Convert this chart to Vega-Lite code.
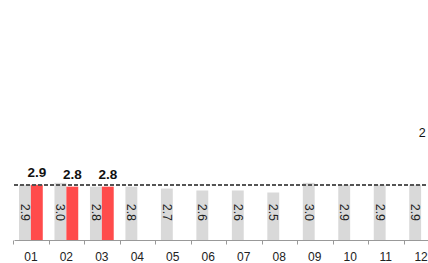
{
  "$schema": "https://vega.github.io/schema/vega-lite/v6.json",
  "width": 424,
  "height": 240,
  "autosize": {"type": "none"},
  "padding": {"left": 14, "top": 0, "right": 0, "bottom": 23},
  "background": "white",
  "config": {"view": {"stroke": null}, "font": "Liberation Sans"},
  "data": {"values": [
    {"month": "01", "series": "prev", "value": 2.9},
    {"month": "02", "series": "prev", "value": 3.0},
    {"month": "03", "series": "prev", "value": 2.8},
    {"month": "04", "series": "prev", "value": 2.8},
    {"month": "05", "series": "prev", "value": 2.7},
    {"month": "06", "series": "prev", "value": 2.6},
    {"month": "07", "series": "prev", "value": 2.6},
    {"month": "08", "series": "prev", "value": 2.5},
    {"month": "09", "series": "prev", "value": 3.0},
    {"month": "10", "series": "prev", "value": 2.9},
    {"month": "11", "series": "prev", "value": 2.9},
    {"month": "12", "series": "prev", "value": 2.9},
    {"month": "01", "series": "cur", "value": 2.9},
    {"month": "02", "series": "cur", "value": 2.8},
    {"month": "03", "series": "cur", "value": 2.8}
  ]},
  "encoding": {
    "x": {
      "field": "month", "type": "nominal",
      "scale": {"paddingInner": 0.33, "paddingOuter": 0.141},
      "axis": {
        "title": null, "labelAngle": 0, "labelFontSize": 12, "labelColor": "#222",
        "labelPadding": 7, "domainColor": "#999", "tickColor": "#999", "tickSize": 4,
        "bandPosition": -0.211, "grid": false
      }
    }
  },
  "layer": [
    {
      "mark": {"type": "bar"},
      "encoding": {
        "xOffset": {"field": "series", "type": "nominal", "scale": {"domain": ["prev", "cur"], "paddingInner": 0}},
        "y": {"field": "value", "type": "quantitative", "scale": {"domain": [0, 12.6], "nice": false}, "axis": null},
        "color": {"field": "series", "type": "nominal", "scale": {"domain": ["prev", "cur"], "range": ["#d9d9d9", "#ff4b4b"]}, "legend": null}
      }
    },
    {
      "transform": [{"filter": "datum.series === 'prev'"}],
      "mark": {"type": "text", "angle": 90, "align": "center", "baseline": "middle", "fontSize": 12.5, "color": "#222"},
      "encoding": {
        "xOffset": {"field": "series", "type": "nominal", "scale": {"domain": ["prev", "cur"], "paddingInner": 0}},
        "y": {"datum": 1.45, "type": "quantitative"},
        "text": {"field": "value", "type": "quantitative", "format": ".1f"}
      }
    },
    {
      "transform": [{"filter": "datum.series === 'cur'"}],
      "mark": {"type": "text", "align": "center", "baseline": "bottom", "dy": -5, "fontSize": 13.5, "fontWeight": "bold", "color": "#111"},
      "encoding": {
        "xOffset": {"field": "series", "type": "nominal", "scale": {"domain": ["prev", "cur"], "paddingInner": 0}},
        "y": {"field": "value", "type": "quantitative"},
        "text": {"field": "value", "type": "quantitative", "format": ".1f"}
      }
    },
    {
      "mark": {"type": "rule", "strokeDash": [4, 2], "color": "#555", "strokeWidth": 1},
      "encoding": {"y": {"datum": 2.9, "type": "quantitative"}, "x": null}
    },
    {
      "data": {"values": [{"month": "12", "label": "2", "pos": 5.6}]},
      "mark": {"type": "text", "align": "center", "baseline": "middle", "fontSize": 12.5, "color": "#111", "dx": 1},
      "encoding": {
        "y": {"field": "pos", "type": "quantitative"},
        "text": {"field": "label"}
      }
    }
  ]
}
